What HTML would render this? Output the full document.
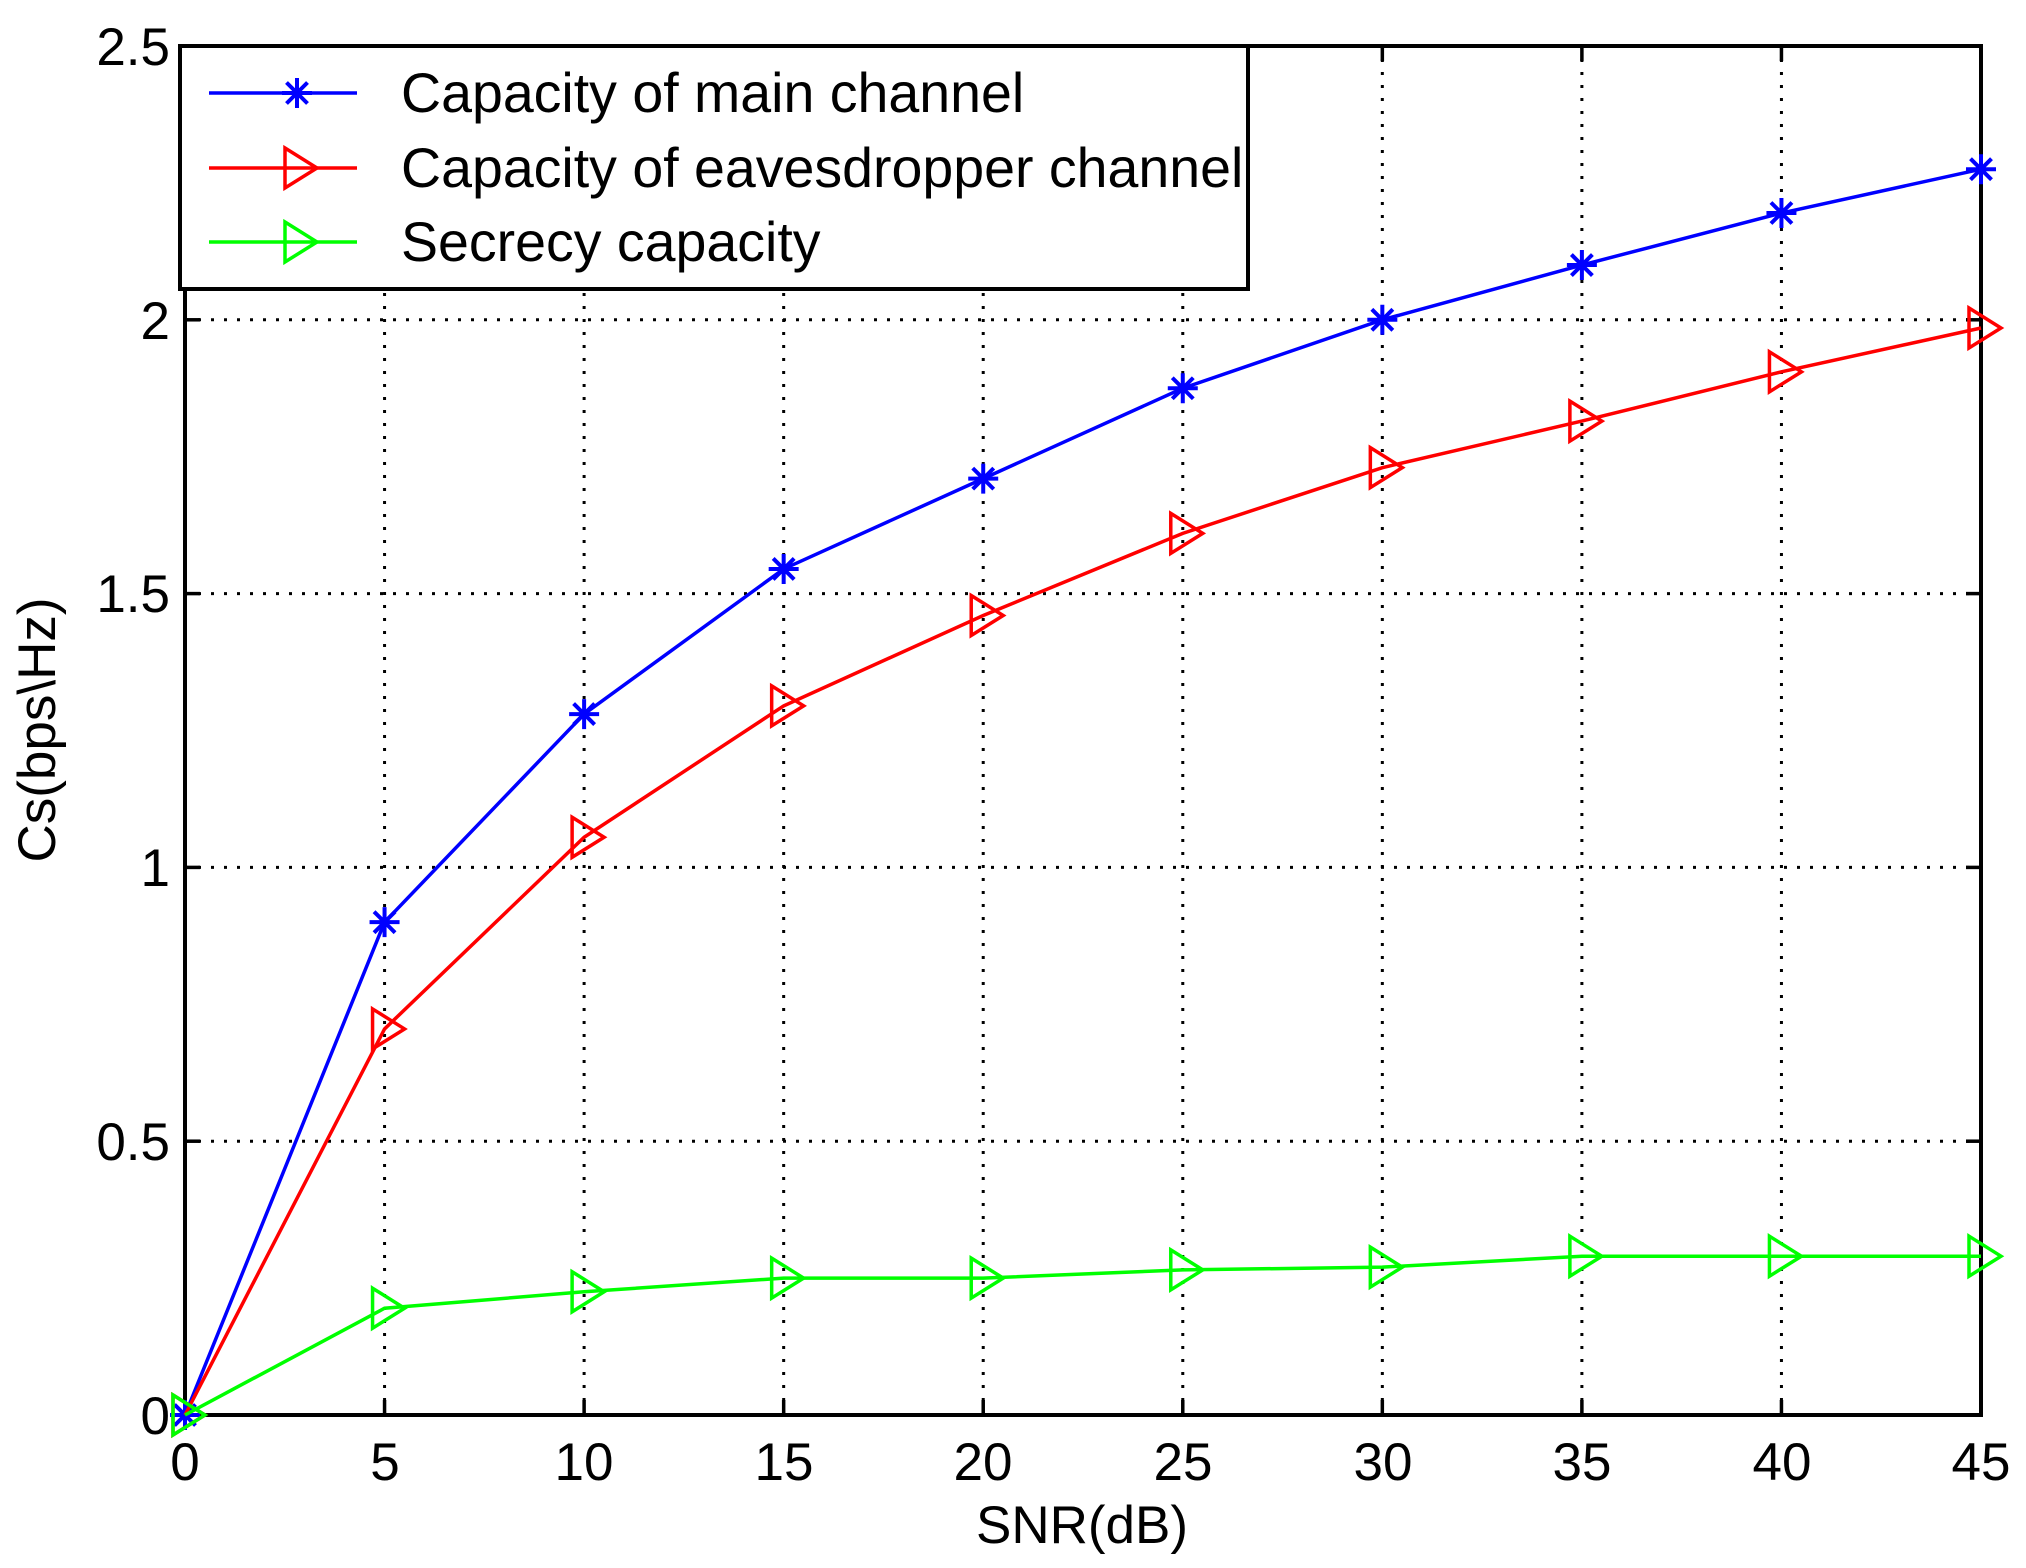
<!DOCTYPE html>
<html><head><meta charset="utf-8"><style>
html,body{margin:0;padding:0;background:#fff;}
svg{display:block;}
text{font-family:"Liberation Sans",sans-serif;fill:#000;}
</style></head><body>
<svg id="s" width="2026" height="1568" viewBox="0 0 2026 1568" xmlns="http://www.w3.org/2000/svg">
<rect width="2026" height="1568" fill="#fff"/>
<g id="grid" stroke="#000" stroke-width="3" stroke-dasharray="3,10" fill="none"></g>
<rect x="185" y="46" width="1796" height="1369" fill="none" stroke="#000" stroke-width="4"/>
<g id="ticks" stroke="#000" stroke-width="3.5"></g>
<g font-size="53" text-anchor="middle">
<text x="185" y="1480">0</text><text x="385" y="1480">5</text><text x="584" y="1480">10</text><text x="784" y="1480">15</text><text x="983" y="1480">20</text><text x="1183" y="1480">25</text><text x="1383" y="1480">30</text><text x="1582" y="1480">35</text><text x="1782" y="1480">40</text><text x="1981" y="1480">45</text>
</g>
<g font-size="53" text-anchor="end">
<text x="170" y="1434">0</text><text x="170" y="1160">0.5</text><text x="170" y="886">1</text><text x="170" y="612">1.5</text><text x="170" y="339">2</text><text x="170" y="65">2.5</text>
</g>
<text x="1082" y="1543" font-size="53" text-anchor="middle">SNR(dB)</text>
<text transform="translate(55,730) rotate(-90)" font-size="53" text-anchor="middle">Cs(bps\Hz)</text>
<g id="series"></g>
<rect x="180" y="46" width="1068" height="243" fill="#fff" stroke="#000" stroke-width="4"/>
<g id="leg"></g>
<g font-size="55.5">
<text x="401" y="112">Capacity of main channel</text>
<text x="401" y="187">Capacity of eavesdropper channel</text>
<text x="401" y="261">Secrecy capacity</text>
</g>
</svg>
<script>
var NS="http://www.w3.org/2000/svg";
function el(p,t,a){var e=document.createElementNS(NS,t);for(var k in a)e.setAttribute(k,a[k]);p.appendChild(e);return e;}
function X(v){return 185+v*1796/45;}
function Y(v){return 1415-v*547.6;}
var g=document.getElementById('grid'),tk=document.getElementById('ticks');
for(var i=1;i<9;i++){var x=X(i*5);el(g,'line',{x1:x,y1:46,x2:x,y2:1415});el(tk,'line',{x1:x,y1:1415,x2:x,y2:1400});el(tk,'line',{x1:x,y1:46,x2:x,y2:61});}
for(var j=1;j<5;j++){var y=Y(j*0.5);el(g,'line',{x1:185,y1:y,x2:1981,y2:y});el(tk,'line',{x1:185,y1:y,x2:200,y2:y});el(tk,'line',{x1:1981,y1:y,x2:1966,y2:y});}
var data=[
 {c:'#0000ff',m:'star',d:[0,0.9,1.28,1.545,1.71,1.875,2.0,2.1,2.195,2.275]},
 {c:'#ff0000',m:'tri',d:[0,0.705,1.055,1.295,1.46,1.61,1.73,1.815,1.905,1.985]},
 {c:'#00ff00',m:'tri',d:[0,0.195,0.225,0.25,0.25,0.265,0.27,0.29,0.29,0.29]}];
function marker(p,m,x,y,c){
 if(m=='star'){var r=15,d=r*0.7;
  el(p,'path',{d:'M'+(x-r)+' '+y+'H'+(x+r)+'M'+x+' '+(y-r)+'V'+(y+r)+'M'+(x-d)+' '+(y-d)+'L'+(x+d)+' '+(y+d)+'M'+(x-d)+' '+(y+d)+'L'+(x+d)+' '+(y-d),stroke:c,'stroke-width':4,fill:'none'});}
 else el(p,'path',{d:'M'+(x-12)+' '+(y-20)+'L'+(x+20)+' '+y+'L'+(x-12)+' '+(y+20)+'Z',stroke:c,'stroke-width':3.5,fill:'none'});
}
var s=document.getElementById('series');
data.forEach(function(o){var pts=o.d.map(function(v,i){return X(i*5)+','+Y(v);}).join(' ');
 el(s,'polyline',{points:pts,stroke:o.c,'stroke-width':3.5,fill:'none'});
 o.d.forEach(function(v,i){marker(s,o.m,X(i*5),Y(v),o.c);});});
var lg=document.getElementById('leg');var ly=[93,168,242];
data.forEach(function(o,i){el(lg,'line',{x1:209,y1:ly[i],x2:357,y2:ly[i],stroke:o.c,'stroke-width':3.5});marker(lg,o.m,o.m=='star'?297:297,ly[i],o.c);});
</script>
</body></html>
